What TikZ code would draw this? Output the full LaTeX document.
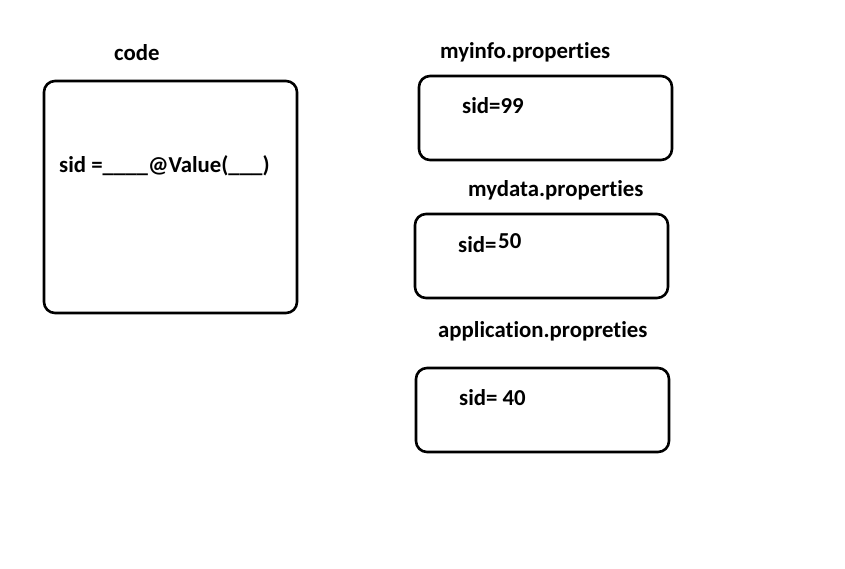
\documentclass[tikz,border=0pt]{standalone}
\usepackage{fontspec}
\setmainfont{Carlito}[Ligatures={NoCommon,NoContextual}]
\begin{document}
\begin{tikzpicture}[x=1pt,y=-1pt,
  box/.style={draw, line width=2.6pt, rounded corners=11pt, inner sep=0pt},
  lbl/.style={anchor=base west, inner sep=0pt, font=\fontsize{22.8}{26}\selectfont\bfseries}]
\useasboundingbox[fill=white] (0,0) rectangle (845,568);
\node[box, minimum width=253pt, minimum height=232pt] (codebox) at (170.5,197) {};
\node[box, minimum width=253pt, minimum height=84pt] (infobox) at (545.5,118) {};
\node[box, minimum width=253pt, minimum height=84pt] (databox) at (541.5,256) {};
\node[box, minimum width=253pt, minimum height=84pt] (appbox) at (542.5,410) {};
\node[lbl] (codelbl) at (114,60) {code};
\node[lbl] (codetxt) at (59,172) {sid =\_\_\_\_@Value(\_\_\_)};
\node[lbl] (infolbl) at (440,58) {myinfo.properties};
\node[lbl] (infotxt) at (462,113) {sid=99};
\node[lbl] (datalbl) at (468,196) {mydata.properties};
\node[lbl] (datatxt) at (458,252) {sid=};
\node[lbl] (dataval) at (498,248) {50};
\node[lbl] (applbl) at (438,337) {application.propreties};
\node[lbl] (apptxt) at (459,405) {sid= 40};
\end{tikzpicture}
\end{document}
